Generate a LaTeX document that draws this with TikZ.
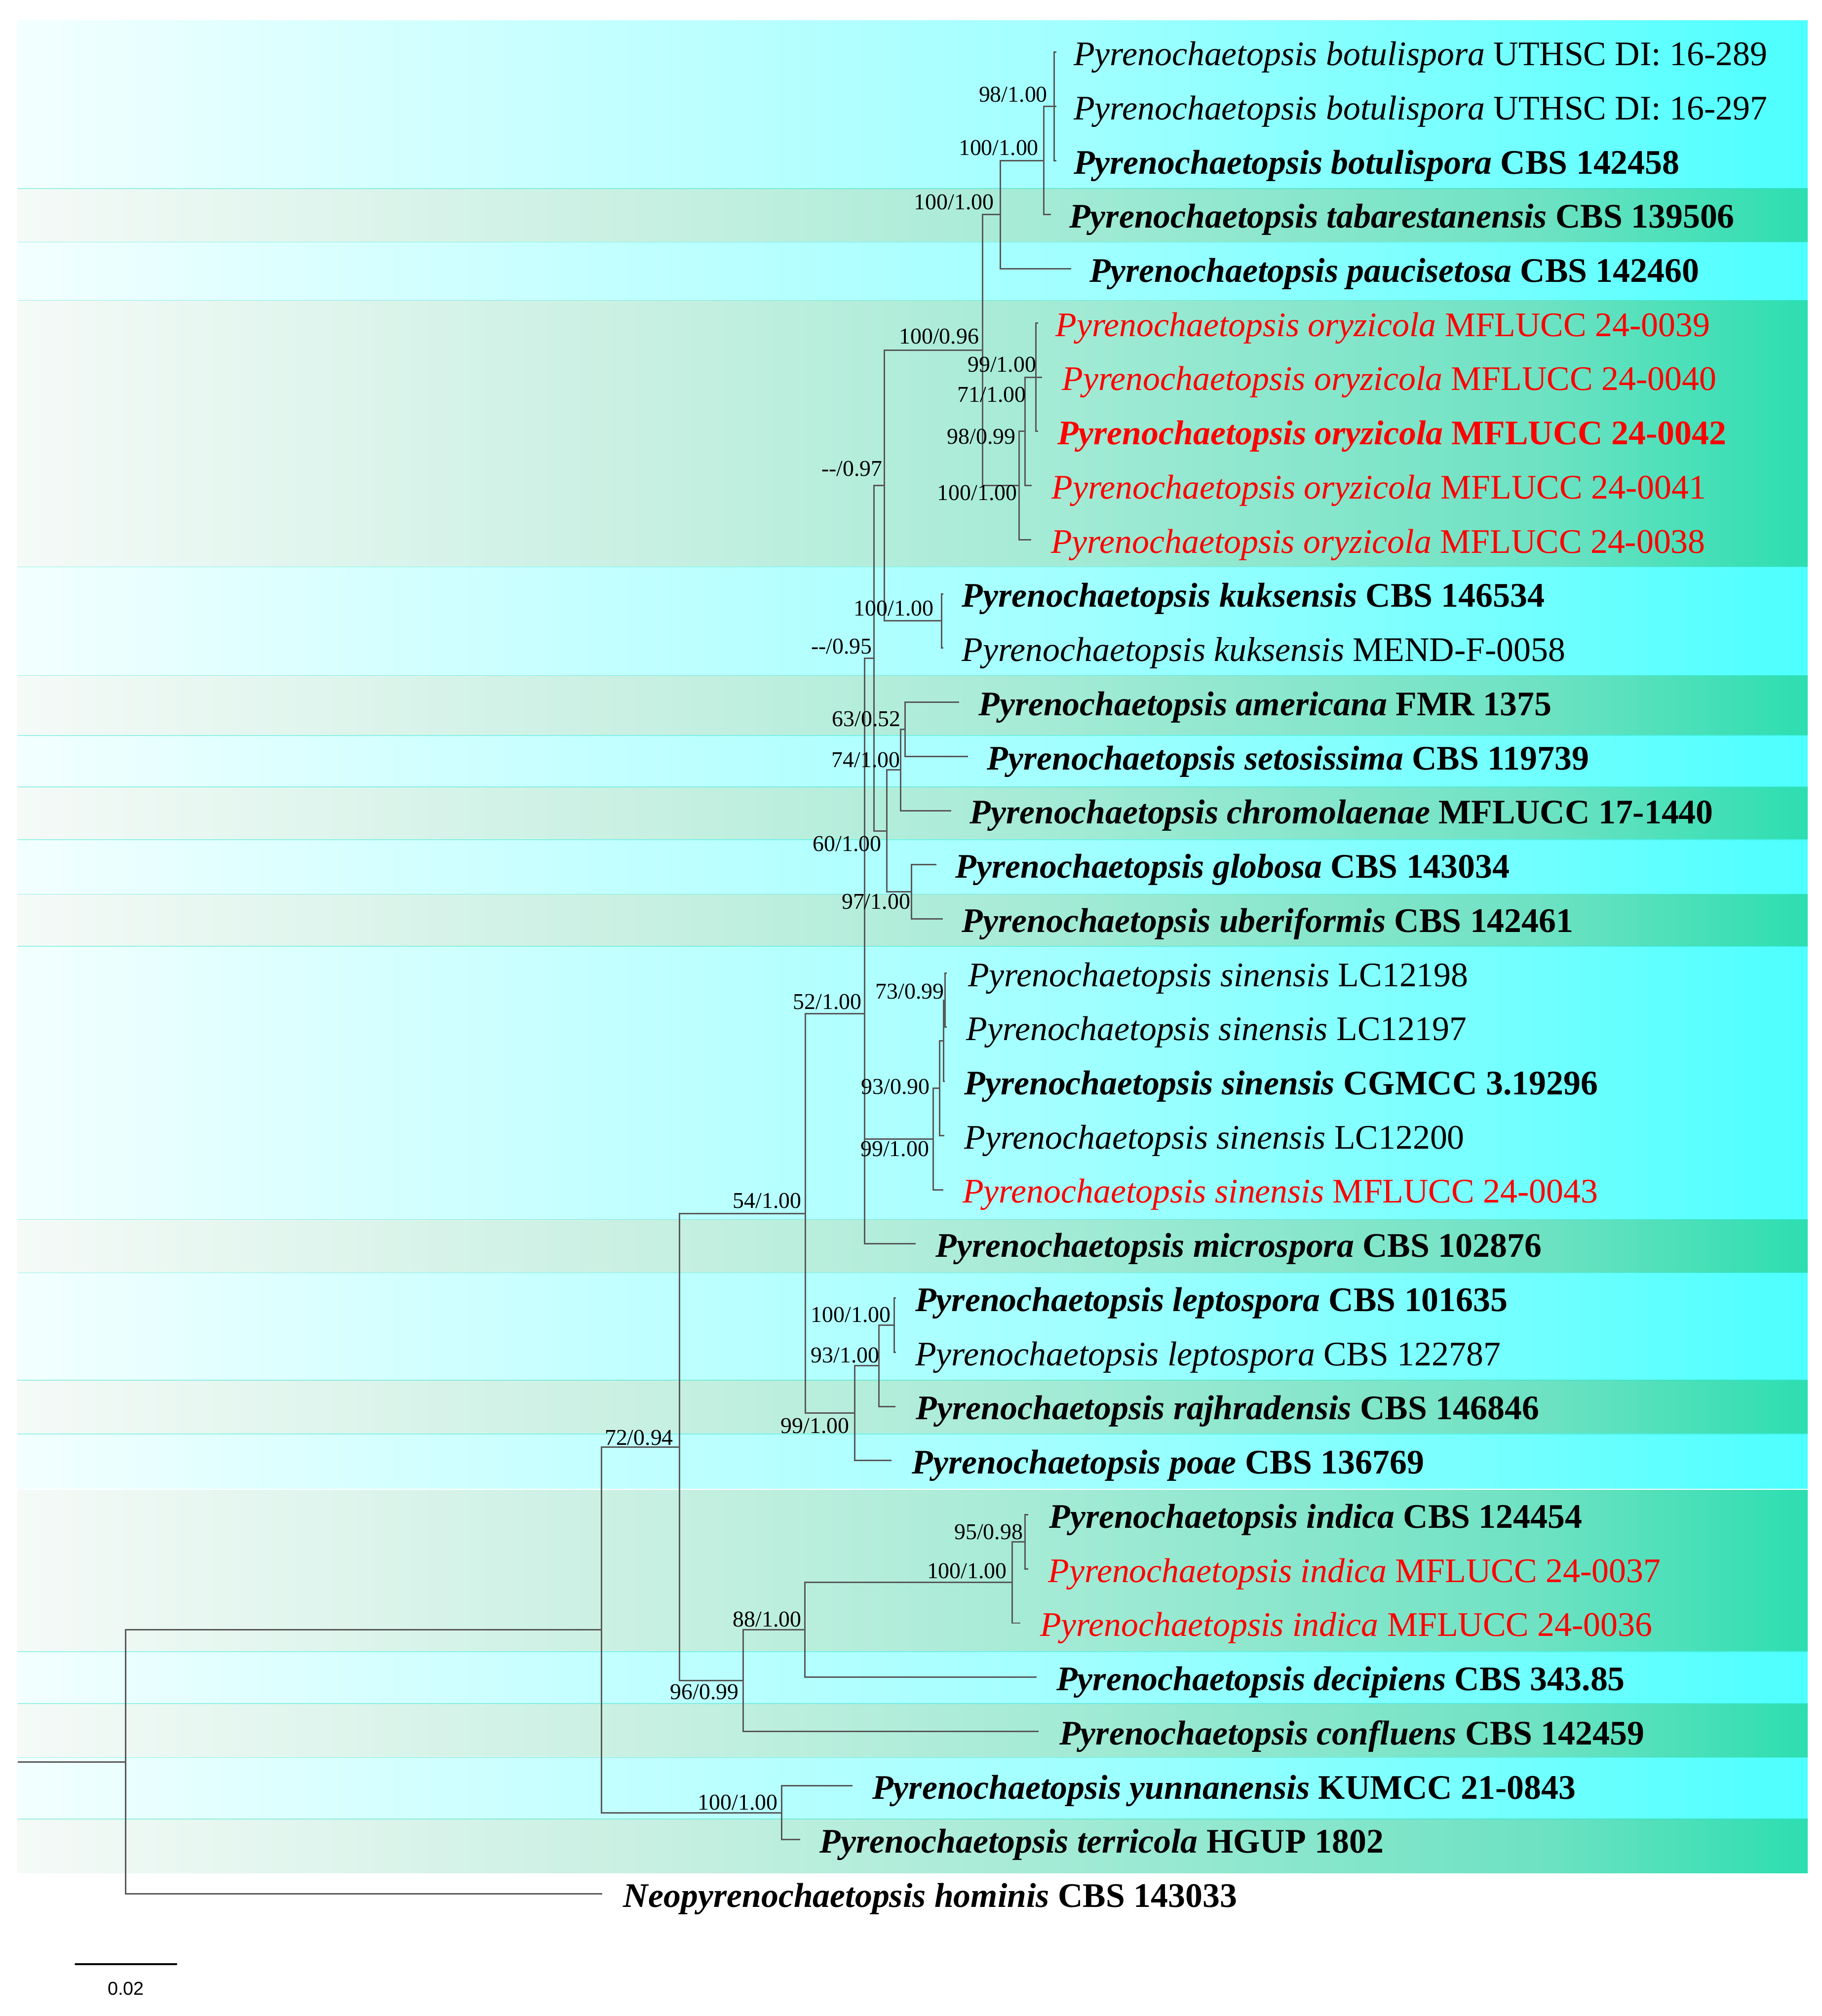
\documentclass[tikz,border=0pt]{standalone}
\usepackage{fontspec}
\setmainfont{Liberation Serif}
\newfontfamily\barfont{Liberation Sans}
\pgfdeclarehorizontalshading{cyanband}{100bp}{rgb(0bp)=(0.953,1,1); rgb(25bp)=(0.953,1,1); rgb(42.5bp)=(0.753,1,1); rgb(55bp)=(0.627,1,1); rgb(67.5bp)=(0.439,1,1); rgb(75bp)=(0.302,1,1); rgb(100bp)=(0.302,1,1)}
\pgfdeclarehorizontalshading{greenband}{100bp}{rgb(0bp)=(0.961,0.98,0.969); rgb(25bp)=(0.961,0.98,0.969); rgb(42.5bp)=(0.784,0.941,0.886); rgb(55bp)=(0.627,0.918,0.831); rgb(67.5bp)=(0.431,0.886,0.765); rgb(75bp)=(0.176,0.871,0.69); rgb(100bp)=(0.176,0.871,0.69)}
\definecolor{branchc}{RGB}{88,88,88}
\definecolor{bandline}{RGB}{40,230,205}
\newcommand{\tn}[2]{\textit{Pyrenochaetopsis #1} #2}
\newcommand{\dd}{-{}-}
\begin{document}
\begin{tikzpicture}[x=1pt,y=-1pt,
  branch/.style={draw=branchc,line width=1.15pt,line join=miter},
  cyanrow/.style={shading=cyanband},
  greenrow/.style={shading=greenband},
  sepline/.style={draw=bandline,line width=0.6pt,opacity=0.45},
  taxon/.style={anchor=base west,inner sep=0pt,font=\fontsize{26.8}{32}\selectfont},
  taxonb/.style={taxon,font=\fontsize{26.8}{32}\selectfont\bfseries},
  newtax/.style={text=red},
  sup/.style={anchor=center,inner sep=0pt,font=\fontsize{17.6}{20}\selectfont}]
\useasboundingbox[fill=white] (0,0) rectangle (1416.8,1568);
% ---------- background bands ----------
\shade[cyanrow]  (13.7,15.8)   rectangle (1406,146.6);
\shade[greenrow] (13.7,146.6)  rectangle (1406,188.3);
\shade[cyanrow]  (13.7,188.3)  rectangle (1406,233.7);
\shade[greenrow] (13.7,233.7)  rectangle (1406,441);
\shade[cyanrow]  (13.7,441)    rectangle (1406,525.4);
\shade[greenrow] (13.7,525.4)  rectangle (1406,572);
\shade[cyanrow]  (13.7,572)    rectangle (1406,612);
\shade[greenrow] (13.7,612)    rectangle (1406,653);
\shade[cyanrow]  (13.7,653)    rectangle (1406,695.5);
\shade[greenrow] (13.7,695.5)  rectangle (1406,736);
\shade[cyanrow]  (13.7,736)    rectangle (1406,948.5);
\shade[greenrow] (13.7,948.5)  rectangle (1406,990);
\shade[cyanrow]  (13.7,990)    rectangle (1406,1073.4);
\shade[greenrow] (13.7,1073.4) rectangle (1406,1115.3);
\shade[cyanrow]  (13.7,1115.3) rectangle (1406,1157.6);
\shade[greenrow] (13.7,1159)   rectangle (1406,1284.6);
\shade[cyanrow]  (13.7,1284.6) rectangle (1406,1325);
\shade[greenrow] (13.7,1325)   rectangle (1406,1367);
\shade[cyanrow]  (13.7,1367)   rectangle (1406,1414.7);
\shade[greenrow] (13.7,1414.7) rectangle (1406,1457);
\foreach \yy in {146.6,188.3,233.7,441,525.4,572,612,653,695.5,736,948.5,990,1073.4,1115.3,1284.6,1325,1367,1414.7}
  \draw[sepline] (13.7,\yy) -- (1406,\yy);
% ---------- tips ----------
\coordinate (t1) at (821.5,40.60);
\coordinate (t2) at (821.5,82.73);
\coordinate (t3) at (821.5,124.86);
\coordinate (t4) at (817.3,166.99);
\coordinate (t5) at (833.2,209.12);
\coordinate (t6) at (807.5,251.25);
\coordinate (t7) at (810.4,293.38);
\coordinate (t8) at (807.5,335.51);
\coordinate (t9) at (802.6,377.64);
\coordinate (t10) at (802.1,419.77);
\coordinate (t11) at (733.7,461.90);
\coordinate (t12) at (733.7,504.03);
\coordinate (t13) at (745.9,546.16);
\coordinate (t14) at (752.8,588.29);
\coordinate (t15) at (739.8,630.42);
\coordinate (t16) at (728.3,672.55);
\coordinate (t17) at (733.2,714.68);
\coordinate (t18) at (736.5,756.81);
\coordinate (t19) at (736.5,798.94);
\coordinate (t20) at (735.0,841.07);
\coordinate (t21) at (734.4,883.20);
\coordinate (t22) at (733.7,925.33);
\coordinate (t23) at (712.3,967.46);
\coordinate (t24) at (697.0,1009.59);
\coordinate (t25) at (697.0,1051.72);
\coordinate (t26) at (696.4,1093.85);
\coordinate (t27) at (693.2,1135.98);
\coordinate (t28) at (799.9,1178.11);
\coordinate (t29) at (799.9,1220.24);
\coordinate (t30) at (793.5,1262.37);
\coordinate (t31) at (806.3,1304.50);
\coordinate (t32) at (807.9,1346.63);
\coordinate (t33) at (663.0,1388.76);
\coordinate (t34) at (622.5,1430.89);
\coordinate (t35) at (468.4,1473.02);
% ---------- internal nodes ----------
\coordinate (root0) at (13.7,1370.33);
\coordinate (ROOT) at (97.7,1370.33);
\coordinate (ING) at (467.8,1267.64);
\coordinate (EE) at (528.3,1125.45);
\coordinate (AA) at (626.4,943.77);
\coordinate (V) at (672.4,788.41);
\coordinate (P) at (679.6,511.93);
\coordinate (Q) at (688.0,377.64);
\coordinate (BIG) at (764.1,272.32);
\coordinate (K) at (778.1,166.99);
\coordinate (L) at (811.9,124.86);
\coordinate (M) at (819.7,82.73);
\coordinate (N3) at (792.8,377.64);
\coordinate (N2) at (797.2,335.51);
\coordinate (N1b) at (797.6,293.38);
\coordinate (N1a) at (805.8,293.38);
\coordinate (KUK) at (732.4,482.97);
\coordinate (R) at (689.6,646.23);
\coordinate (S) at (700.6,598.83);
\coordinate (T) at (703.8,567.23);
\coordinate (U) at (708.9,693.62);
\coordinate (W) at (725.8,885.83);
\coordinate (X) at (730.7,846.34);
\coordinate (Y) at (733.7,809.47);
\coordinate (Z) at (735.1,777.88);
\coordinate (BB) at (664.6,1099.12);
\coordinate (CC) at (683.7,1062.25);
\coordinate (DD) at (695.5,1030.66);
\coordinate (FF) at (577.9,1307.13);
\coordinate (GG) at (626.1,1267.64);
\coordinate (HH) at (787.2,1230.78);
\coordinate (II) at (797.4,1199.18);
\coordinate (JJ) at (607.9,1409.83);
% ---------- branches ----------
\draw[branch] (root0) -- (ROOT);
\draw[branch] (ROOT) |- (ING) (ROOT) |- (t35);
\draw[branch] (ING) |- (EE) (ING) |- (JJ);
\draw[branch] (EE) |- (AA) (EE) |- (FF);
\draw[branch] (AA) |- (V) (AA) |- (BB);
\draw[branch] (V) |- (P) (V) |- (W) (V) |- (t23);
\draw[branch] (P) |- (Q) (P) |- (R);
\draw[branch] (Q) |- (BIG) (Q) |- (KUK);
\draw[branch] (BIG) |- (K) (BIG) |- (N3);
\draw[branch] (K) |- (L) (K) |- (t5);
\draw[branch] (L) |- (M) (L) |- (t4);
\draw[branch] (M) |- (t1) (M) |- (t2) (M) |- (t3);
\draw[branch] (N3) |- (N2) (N3) |- (t10);
\draw[branch] (N2) |- (N1b) (N2) |- (t9);
\draw[branch] (N1b) |- (N1a) (N1b) |- (t7);
\draw[branch] (N1a) |- (t6) (N1a) |- (t8);
\draw[branch] (KUK) |- (t11) (KUK) |- (t12);
\draw[branch] (R) |- (S) (R) |- (U);
\draw[branch] (S) |- (T) (S) |- (t15);
\draw[branch] (T) |- (t13) (T) |- (t14);
\draw[branch] (U) |- (t16) (U) |- (t17);
\draw[branch] (W) |- (X) (W) |- (t22);
\draw[branch] (X) |- (Y) (X) |- (t21);
\draw[branch] (Y) |- (Z) (Y) |- (t20);
\draw[branch] (Z) |- (t18) (Z) |- (t19);
\draw[branch] (BB) |- (CC) (BB) |- (t27);
\draw[branch] (CC) |- (DD) (CC) |- (t26);
\draw[branch] (DD) |- (t24) (DD) |- (t25);
\draw[branch] (FF) |- (GG) (FF) |- (t32);
\draw[branch] (GG) |- (HH) (GG) |- (t31);
\draw[branch] (HH) |- (II) (HH) |- (t30);
\draw[branch] (II) |- (t28) (II) |- (t29);
\draw[branch] (JJ) |- (t33) (JJ) |- (t34);
% ---------- support values ----------
\node[sup] (sM) at (788.0,73.5) {98/1.00};
\node[sup] (sL) at (776.7,115.2) {100/1.00};
\node[sup] (sK) at (742.0,157.2) {100/1.00};
\node[sup] (sBIG) at (730.3,261.6) {100/0.96};
\node[sup] (sN1a) at (779.3,283.6) {99/1.00};
\node[sup] (sN1b) at (771.3,307.1) {71/1.00};
\node[sup] (sN2) at (763.4,339.5) {98/0.99};
\node[sup] (sQ) at (662.7,364.4) {\dd/0.97};
\node[sup] (sN3) at (760.0,383.5) {100/1.00};
\node[sup] (sKUK) at (695.2,473.4) {100/1.00};
\node[sup] (sP) at (654.6,502.7) {\dd/0.95};
\node[sup] (sT) at (673.8,559.4) {63/0.52};
\node[sup] (sS) at (673.4,591.2) {74/1.00};
\node[sup] (sR) at (658.8,656.5) {60/1.00};
\node[sup] (sU) at (681.3,701.1) {97/1.00};
\node[sup] (sZ) at (707.7,771.2) {73/0.99};
\node[sup] (sV) at (643.5,779.1) {52/1.00};
\node[sup] (sX) at (696.5,845.3) {93/0.90};
\node[sup] (sW) at (695.9,893.7) {99/1.00};
\node[sup] (sAA) at (596.6,933.8) {54/1.00};
\node[sup] (sDD) at (661.8,1022.7) {100/1.00};
\node[sup] (sCC) at (657.4,1054.0) {93/1.00};
\node[sup] (sBB) at (633.9,1109.1) {99/1.00};
\node[sup] (sEE) at (497.0,1118.3) {72/0.94};
\node[sup] (sII) at (768.9,1191.7) {95/0.98};
\node[sup] (sHH) at (752.1,1221.9) {100/1.00};
\node[sup] (sGG) at (596.6,1259.7) {88/1.00};
\node[sup] (sFF) at (547.9,1315.9) {96/0.99};
\node[sup] (sJJ) at (573.8,1401.9) {100/1.00};
% ---------- taxa ----------
\node[taxon]  (n1) at (834.9,50.90) {\tn{botulispora}{UTHSC DI: 16-289}};
\node[taxon]  (n2) at (834.9,93.03) {\tn{botulispora}{UTHSC DI: 16-297}};
\node[taxonb] (n3) at (834.9,135.16) {\tn{botulispora}{CBS 142458}};
\node[taxonb] (n4) at (831.5,177.29) {\tn{tabarestanensis}{CBS 139506}};
\node[taxonb] (n5) at (847.2,219.42) {\tn{paucisetosa}{CBS 142460}};
\node[taxon,newtax]  (n6) at (820.9,261.55) {\tn{oryzicola}{MFLUCC 24-0039}};
\node[taxon,newtax]  (n7) at (825.8,303.68) {\tn{oryzicola}{MFLUCC 24-0040}};
\node[taxonb,newtax] (n8) at (822.2,345.81) {\tn{oryzicola}{MFLUCC 24-0042}};
\node[taxon,newtax]  (n9) at (817.8,387.94) {\tn{oryzicola}{MFLUCC 24-0041}};
\node[taxon,newtax]  (n10) at (817.3,430.07) {\tn{oryzicola}{MFLUCC 24-0038}};
\node[taxonb] (n11) at (747.9,472.20) {\tn{kuksensis}{CBS 146534}};
\node[taxon]  (n12) at (747.9,514.33) {\tn{kuksensis}{MEND-F-0058}};
\node[taxonb] (n13) at (760.9,556.46) {\tn{americana}{FMR 1375}};
\node[taxonb] (n14) at (767.5,598.59) {\tn{setosissima}{CBS 119739}};
\node[taxonb] (n15) at (754.0,640.72) {\tn{chromolaenae}{MFLUCC 17-1440}};
\node[taxonb] (n16) at (743.0,682.85) {\tn{globosa}{CBS 143034}};
\node[taxonb] (n17) at (747.9,724.98) {\tn{uberiformis}{CBS 142461}};
\node[taxon]  (n18) at (752.8,767.11) {\tn{sinensis}{LC12198}};
\node[taxon]  (n19) at (751.5,809.24) {\tn{sinensis}{LC12197}};
\node[taxonb] (n20) at (749.8,851.37) {\tn{sinensis}{CGMCC 3.19296}};
\node[taxon]  (n21) at (749.8,893.50) {\tn{sinensis}{LC12200}};
\node[taxon,newtax] (n22) at (748.6,935.63) {\tn{sinensis}{MFLUCC 24-0043}};
\node[taxonb] (n23) at (727.6,977.76) {\tn{microspora}{CBS 102876}};
\node[taxonb] (n24) at (711.7,1019.89) {\tn{leptospora}{CBS 101635}};
\node[taxon]  (n25) at (711.7,1062.02) {\tn{leptospora}{CBS 122787}};
\node[taxonb] (n26) at (712.3,1104.15) {\tn{rajhradensis}{CBS 146846}};
\node[taxonb] (n27) at (709.2,1146.28) {\tn{poae}{CBS 136769}};
\node[taxonb] (n28) at (815.8,1188.41) {\tn{indica}{CBS 124454}};
\node[taxon,newtax] (n29) at (815.2,1230.54) {\tn{indica}{MFLUCC 24-0037}};
\node[taxon,newtax] (n30) at (808.8,1272.67) {\tn{indica}{MFLUCC 24-0036}};
\node[taxonb] (n31) at (821.5,1314.80) {\tn{decipiens}{CBS 343.85}};
\node[taxonb] (n32) at (823.8,1356.93) {\tn{confluens}{CBS 142459}};
\node[taxonb] (n33) at (678.3,1399.06) {\tn{yunnanensis}{KUMCC 21-0843}};
\node[taxonb] (n34) at (637.5,1441.19) {\tn{terricola}{HGUP 1802}};
\node[taxonb] (n35) at (484.7,1483.32) {\textit{Neopyrenochaetopsis hominis} CBS 143033};
% ---------- scale bar ----------
\coordinate (sb1) at (58.8,1527.6);
\coordinate (sb2) at (137.1,1527.6);
\draw[line width=1.5pt,line cap=round] (sb1) -- (sb2);
\node[inner sep=0pt,font=\barfont\fontsize{14.5}{16}\selectfont] (sbl) at (97.9,1546.6) {0.02};
\end{tikzpicture}
\end{document}
